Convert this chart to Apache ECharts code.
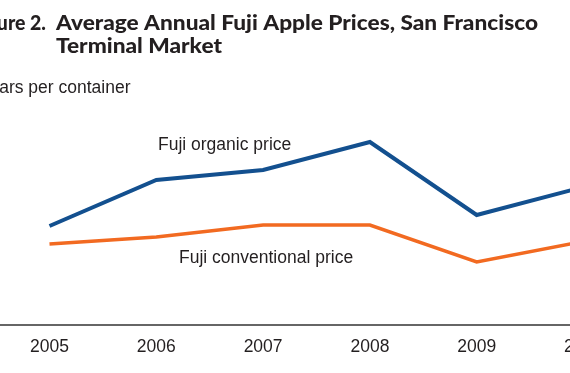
<!DOCTYPE html>
<html>
<head>
<meta charset="utf-8">
<script src="https://cdn.jsdelivr.net/npm/echarts@6/dist/echarts.min.js"></script>
<style>
html,body{margin:0;padding:0;background:#fff;}
#chart{width:570px;height:373px;}
</style>
</head>
<body>
<div id="chart"></div>
<script>
// Data (dollars per container)
const years = ['2005', '2006', '2007', '2008', '2009', '2010'];
const organicPrice = [19.8, 29.0, 31.0, 36.6, 22.0, 27.6];
const conventionalPrice = [16.2, 17.6, 20.0, 20.0, 12.6, 16.7];
const seriesNames = ['Fuji organic price', 'Fuji conventional price'];
const titleLabel = 'Figure 2.';
const titleLines = 'Average Annual Fuji Apple Prices, San Francisco\nTerminal Market';
const unitLabel = 'Dollars per container';

const titleFont = 'Lato';
const titleSize = 21;
const titleWeight = '900';
function measure(text, font) {
  const c = document.createElement('canvas').getContext('2d');
  c.font = font;
  return c.measureText(text).width;
}
const line1 = titleLines.split('\n')[0];
const w1 = measure(line1, titleWeight + ' ' + titleSize + 'px ' + titleFont);
const sx = w1 > 0 ? 482 / w1 : 1;

const chart = echarts.init(document.getElementById('chart'), null, {renderer: 'canvas'});
const txt = '#231f20';
const labelFont = '17.5px "Liberation Sans"';
chart.setOption({
  animation: false,
  backgroundColor: '#fff',
  grid: {left: -3.9, width: 640.8, top: 75, bottom: 48, containLabel: false, outerBoundsMode: 'none'},
  xAxis: {
    type: 'category',
    data: years,
    boundaryGap: true,
    axisLine: {lineStyle: {color: '#333', width: 1.5}},
    axisTick: {alignWithLabel: true, length: 5, lineStyle: {color: '#333', width: 1.2}},
    axisLabel: {color: txt, fontSize: 17.5, fontFamily: 'Liberation Sans', margin: 13, interval: 0, hideOverlap: false}
  },
  yAxis: {type: 'value', min: 0, max: 50, show: false, splitLine: {show: false}},
  series: [
    {name: seriesNames[0], type: 'line', data: organicPrice, symbol: 'none',
     lineStyle: {color: '#13508f', width: 4, join: 'miter'}},
    {name: seriesNames[1], type: 'line', data: conventionalPrice, symbol: 'none',
     lineStyle: {color: '#f26a21', width: 3.5, join: 'miter'}}
  ],
  graphic: [
    {type: 'text', x: 46, y: 23, scaleX: sx * 0.86, style: {text: titleLabel, fill: '#231f20',
      font: titleWeight + ' ' + titleSize + 'px ' + titleFont, textAlign: 'right', textVerticalAlign: 'middle'}},
    {type: 'text', x: 56, y: 12, scaleX: sx, style: {text: titleLines, fill: '#231f20',
      font: titleWeight + ' ' + titleSize + 'px ' + titleFont, lineHeight: 22.5, textAlign: 'left', textVerticalAlign: 'top'}},
    {type: 'text', x: -31, y: 88, style: {text: unitLabel, fill: txt,
      font: labelFont, textVerticalAlign: 'middle'}},
    {type: 'text', x: 158, y: 145, style: {text: seriesNames[0], fill: txt,
      font: labelFont, textVerticalAlign: 'middle'}},
    {type: 'text', x: 179, y: 258, style: {text: seriesNames[1], fill: txt,
      font: labelFont, textVerticalAlign: 'middle'}}
  ]
});
</script>
</body>
</html>
